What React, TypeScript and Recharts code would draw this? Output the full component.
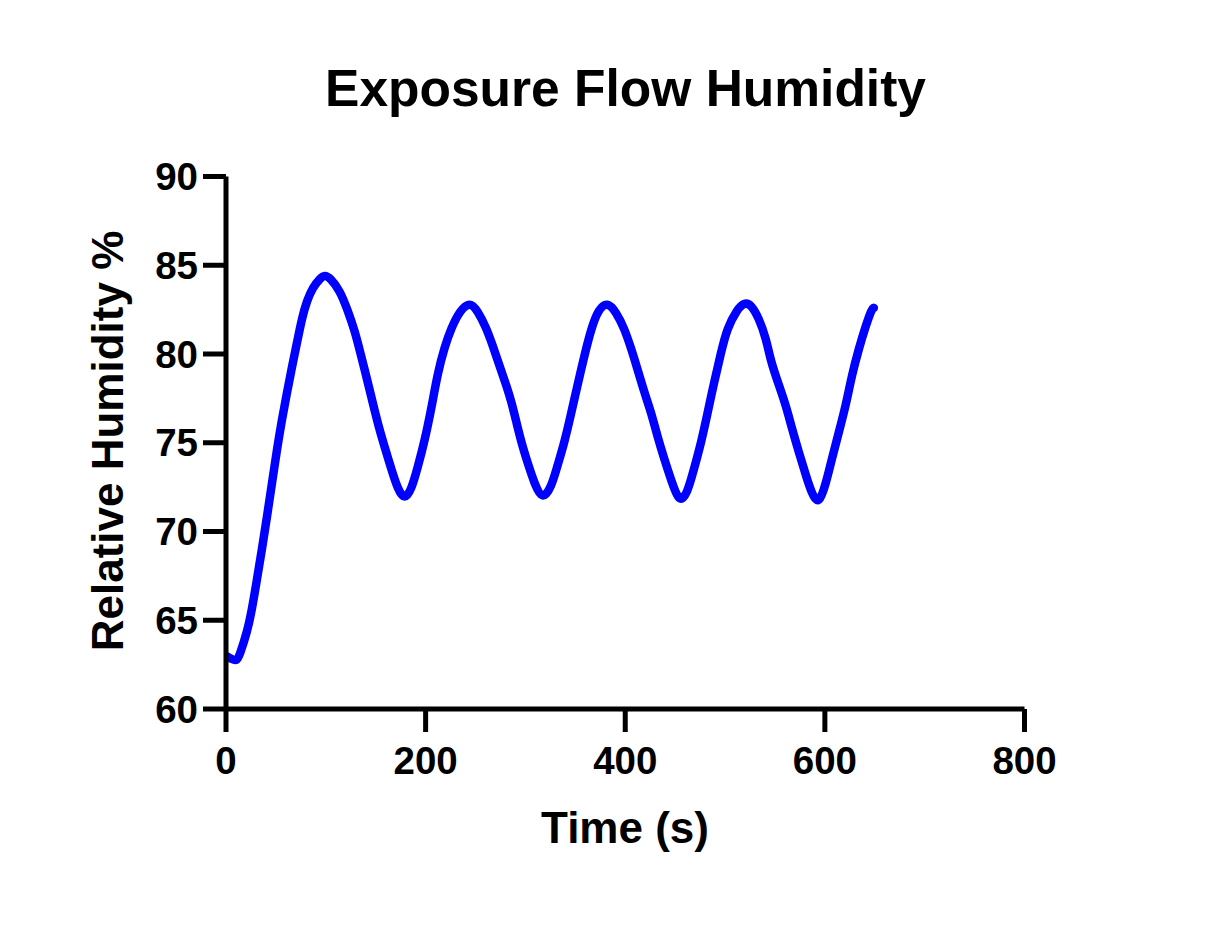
import React from 'react';
import { LineChart, Line, XAxis, YAxis, Label } from 'recharts';

const chartTitle = 'Exposure Flow Humidity';
const xAxisTitle = 'Time (s)';
const yAxisTitle = 'Relative Humidity %';

const xTicks = [0, 200, 400, 600, 800];
const yTicks = [60, 65, 70, 75, 80, 85, 90];

const timeSeconds = [
  0, 6, 11, 14, 21, 26, 31, 36, 41, 46, 51, 56, 61, 66, 71, 76, 81, 87, 94, 99,
  104, 114, 122, 129, 134, 139, 144, 149, 154, 159, 166, 172, 179, 186, 192, 199,
  206, 212, 219, 226, 234, 244, 252, 261, 267, 274, 281, 286, 291, 296, 302, 309,
  317, 326, 332, 339, 346, 352, 359, 366, 373, 382, 391, 399, 406, 412, 419, 426,
  432, 439, 446, 454, 462, 469, 476, 482, 489, 496, 502, 512, 519, 526, 534, 541,
  546, 553, 561, 567, 574, 581, 587, 594, 601, 607, 614, 621, 627, 634, 641, 647, 649,
];

const humidityPercent = [
  63.0, 62.8, 62.7, 63.1, 64.3, 65.6, 67.3, 69.0, 70.8, 72.7, 74.6, 76.3, 77.8, 79.25,
  80.6, 82.0, 83.0, 83.75, 84.25, 84.45, 84.3, 83.6, 82.45, 81.3, 80.2, 79.1, 77.95, 76.8,
  75.7, 74.75, 73.45, 72.4, 71.75, 72.4, 73.6, 75.1, 77.0, 78.9, 80.4, 81.5, 82.4, 82.95,
  82.45, 81.45, 80.5, 79.35, 78.2, 77.3, 76.15, 75.0, 73.9, 72.7, 71.75, 72.5, 73.7, 75.0,
  76.7, 78.2, 79.9, 81.45, 82.5, 82.95, 82.35, 81.45, 80.3, 79.2, 77.85, 76.7, 75.4, 74.1,
  72.9, 71.6, 72.1, 73.55, 75.0, 76.55, 78.4, 80.1, 81.45, 82.5, 82.9, 82.8, 82.0, 80.9,
  79.55, 78.4, 77.1, 75.8, 74.45, 73.15, 72.1, 71.5, 72.7, 74.1, 75.6, 77.1, 78.8, 80.3,
  81.6, 82.55, 82.6,
];

const data = timeSeconds.map((t, i) => ({ t, rh: humidityPercent[i] }));

const FONT = '"Liberation Sans", Arial, Helvetica, sans-serif';
const tickStyle = { fontFamily: FONT, fontWeight: 700, fontSize: 38.5, fill: '#000' };

export default function App() {
  return (
    <div style={{ position: 'absolute', left: 0, top: 0, width: 1216, height: 944, background: '#fff' }}>
      <svg width={1216} height={944} style={{ position: 'absolute', left: 0, top: 0 }}>
        <text
          x={625.5}
          y={106}
          textAnchor="middle"
          style={{ fontFamily: FONT, fontWeight: 700, fontSize: 51.5, fill: '#000' }}
        >
          {chartTitle}
        </text>
      </svg>
      <div style={{ position: 'absolute', left: 0, top: 0 }}>
        <LineChart
          width={1216}
          height={944}
          data={data}
          margin={{ top: 176.5, right: 191.5, bottom: 115, left: 106 }}
        >
          <XAxis
            dataKey="t"
            type="number"
            domain={[0, 800]}
            ticks={xTicks}
            interval={0}
            allowDataOverflow
            height={120}
            tickSize={23}
            tickMargin={15}
            axisLine={{ stroke: '#000', strokeWidth: 5 }}
            tickLine={{ stroke: '#000', strokeWidth: 5 }}
            tick={tickStyle}
          >
            <Label
              content={() => (
                <text
                  x={625}
                  y={843}
                  textAnchor="middle"
                  style={{ fontFamily: FONT, fontWeight: 700, fontSize: 44, fill: '#000' }}
                >
                  {xAxisTitle}
                </text>
              )}
            />
          </XAxis>
          <YAxis
            type="number"
            domain={[60, 90]}
            ticks={yTicks}
            interval={0}
            allowDataOverflow
            width={120}
            tickSize={23}
            tickMargin={5}
            axisLine={{ stroke: '#000', strokeWidth: 5 }}
            tickLine={{ stroke: '#000', strokeWidth: 5 }}
            tick={tickStyle}
          >
            <Label
              content={() => (
                <text
                  x={0}
                  y={0}
                  transform="translate(123,441) rotate(-90)"
                  textAnchor="middle"
                  style={{ fontFamily: FONT, fontWeight: 700, fontSize: 44, fill: '#000' }}
                >
                  {yAxisTitle}
                </text>
              )}
            />
          </YAxis>
          <Line
            type="basis"
            dataKey="rh"
            stroke="#0000FF"
            strokeWidth={8.5}
            strokeLinecap="round"
            strokeLinejoin="round"
            dot={false}
            isAnimationActive={false}
          />
        </LineChart>
      </div>
    </div>
  );
}
